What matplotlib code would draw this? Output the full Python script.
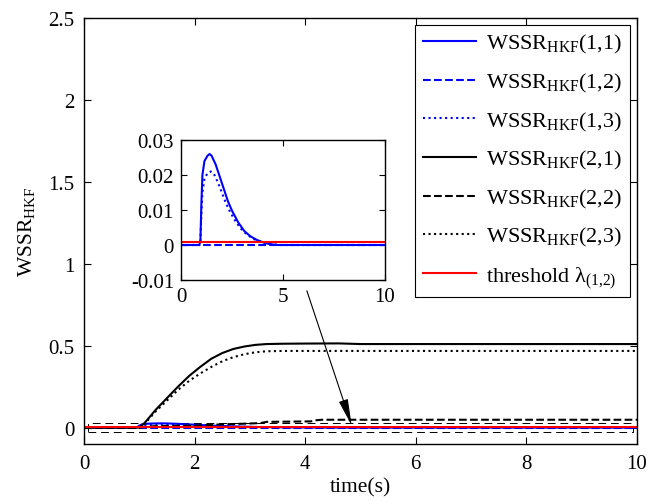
import matplotlib
matplotlib.use("Agg")
import matplotlib.pyplot as plt
from matplotlib.patches import Rectangle

plt.rcParams['font.family'] = ['Liberation Serif', 'DejaVu Serif']
plt.rcParams['mathtext.fontset'] = 'custom'
plt.rcParams['mathtext.rm'] = 'Liberation Serif'
plt.rcParams['mathtext.it'] = 'Liberation Serif:italic'
plt.rcParams['axes.unicode_minus'] = False

# ---------------- data ----------------
t_11 = [0, 0.9, 0.95, 1.0, 1.05, 1.15, 1.3, 1.4, 1.5, 1.7, 1.9, 2.1, 2.3, 2.5, 2.8, 3.1, 3.4, 3.7, 4.0, 4.3, 4.7, 10]
w_11 = [0, 0, 0.001, 0.012, 0.02, 0.024, 0.0255, 0.026, 0.0255, 0.023, 0.0195, 0.016, 0.0125, 0.0098,
        0.0065, 0.004, 0.0025, 0.0015, 0.0008, 0.0003, 0, 0]

t_12 = [0, 1.0, 10]
w_12 = [0, 0, 0]

t_13 = [0, 0.9, 0.95, 1.0, 1.05, 1.15, 1.3, 1.45, 1.6, 1.8, 2.0, 2.2, 2.4, 2.7, 3.0, 3.3, 3.6, 4.0, 4.4, 4.8, 10]
w_13 = [0, 0, 0.001, 0.009, 0.015, 0.019, 0.0205, 0.021, 0.0205, 0.018, 0.015, 0.012, 0.0095, 0.0065,
        0.0042, 0.0027, 0.0016, 0.0008, 0.0003, 0, 0]

t_21 = [0, 1.0, 1.1, 1.3, 1.5, 1.7, 1.9, 2.1, 2.3, 2.5, 2.7, 2.9, 3.1, 3.3, 3.6, 4.0, 4.6, 5.0, 10]
w_21 = [0, 0, 0.03, 0.11, 0.18, 0.25, 0.315, 0.37, 0.42, 0.455, 0.48, 0.495, 0.505, 0.51, 0.512,
        0.513, 0.514, 0.51, 0.51]

t_22 = [0, 1.0, 1.2, 1.5, 2.0, 2.5, 3.0, 3.2, 3.3, 4.1, 4.2, 4.3, 10]
w_22 = [0, 0, 0.008, 0.01, 0.012, 0.02, 0.025, 0.028, 0.035, 0.038, 0.045, 0.048, 0.048]

t_23 = t_21
w_23 = [0, 0, 0.025, 0.10, 0.165, 0.23, 0.285, 0.33, 0.37, 0.405, 0.43, 0.448, 0.46, 0.466, 0.468,
        0.468, 0.468, 0.468, 0.468]

t_thr = [0, 10]
thr = [0.001, 0.001]

labels = [r'WSSR$_{\mathrm{HKF}}$(1,1)', r'WSSR$_{\mathrm{HKF}}$(1,2)', r'WSSR$_{\mathrm{HKF}}$(1,3)',
          r'WSSR$_{\mathrm{HKF}}$(2,1)', r'WSSR$_{\mathrm{HKF}}$(2,2)', r'WSSR$_{\mathrm{HKF}}$(2,3)',
          r'threshold λ$_{(1{,}2)}$']

main_xticks = [0, 2, 4, 6, 8, 10]
main_yticks = [0, 0.5, 1, 1.5, 2, 2.5]
inset_xticks = [0, 5, 10]
inset_yticks = [-0.01, 0, 0.01, 0.02, 0.03]

# ---------------- figure ----------------
fig = plt.figure(figsize=(6.47, 5.02), dpi=100)
ax = fig.add_axes([84 / 647, 1 - 445 / 502, (637 - 84) / 647, (445 - 19) / 502])

lw = 1.5
series = [
    (t_11, w_11, 'b', '-'), (t_12, w_12, 'b', '--'), (t_13, w_13, 'b', ':'),
    (t_21, w_21, 'k', '-'), (t_22, w_22, 'k', '--'), (t_23, w_23, 'k', ':'),
]
for (tt, ww, c, ls), lab in zip(series, labels[:6]):
    ax.plot(tt, ww, color=c, linestyle=ls, lw=lw, label=lab)
ax.plot(t_thr, thr, color='r', lw=lw, label=labels[6])

ax.set_xlim(0, 10)
ax.set_ylim(-0.1, 2.5)
ax.set_xticks(main_xticks)
ax.set_yticks(main_yticks)
ax.set_xticklabels([str(v) for v in main_xticks])
ax.set_yticklabels(['0', '0.5', '1', '1.5', '2', '2.5'])
ax.tick_params(direction='in', top=True, right=True, labelsize=15, length=5, width=0.8, pad=7)
for s in ax.spines.values():
    s.set_linewidth(1.0)
ax.set_xlabel('time(s)', fontsize=15.5, labelpad=3)
ax.set_ylabel(r'WSSR$_{\mathrm{HKF}}$', fontsize=15.5, labelpad=8)

# zoom box
ax.add_patch(Rectangle((0.07, -0.028), 9.85, 0.058, fill=False, edgecolor='k',
                       linestyle=(0, (8, 5)), lw=0.7, zorder=1))

leg = ax.legend(loc='upper right', fontsize=16, frameon=True, fancybox=False,
                edgecolor='k', framealpha=1, handlelength=2.4, labelspacing=0.7,
                borderaxespad=0.3, handletextpad=0.45, borderpad=0.35)
leg.get_frame().set_linewidth(0.8)

# arrow
ax.annotate('', xy=(4.84, 0.014), xytext=(4.03, 0.835),
            arrowprops=dict(arrowstyle='-|>,head_length=0.9,head_width=0.16',
                            color='k', lw=0.8, mutation_scale=18, shrinkA=0, shrinkB=0))

# inset
axi = fig.add_axes([181 / 647, 1 - 281 / 502, (385 - 181) / 647, (281 - 141) / 502])
for tt, ww, c, ls in series[:3]:
    axi.plot(tt, ww, color=c, linestyle=ls, lw=lw)
axi.plot(t_thr, thr, color='r', lw=lw)
axi.set_xlim(0, 10)
axi.set_ylim(-0.01, 0.03)
axi.set_xticks(inset_xticks)
axi.set_yticks(inset_yticks)
axi.set_xticklabels([str(v) for v in inset_xticks])
axi.set_yticklabels(['-0.01', '0', '0.01', '0.02', '0.03'])
axi.tick_params(direction='in', top=True, right=True, labelsize=15, length=4, width=0.8, pad=5)
for s in axi.spines.values():
    s.set_linewidth(1.0)

fig.savefig('out.png', dpi=100)
